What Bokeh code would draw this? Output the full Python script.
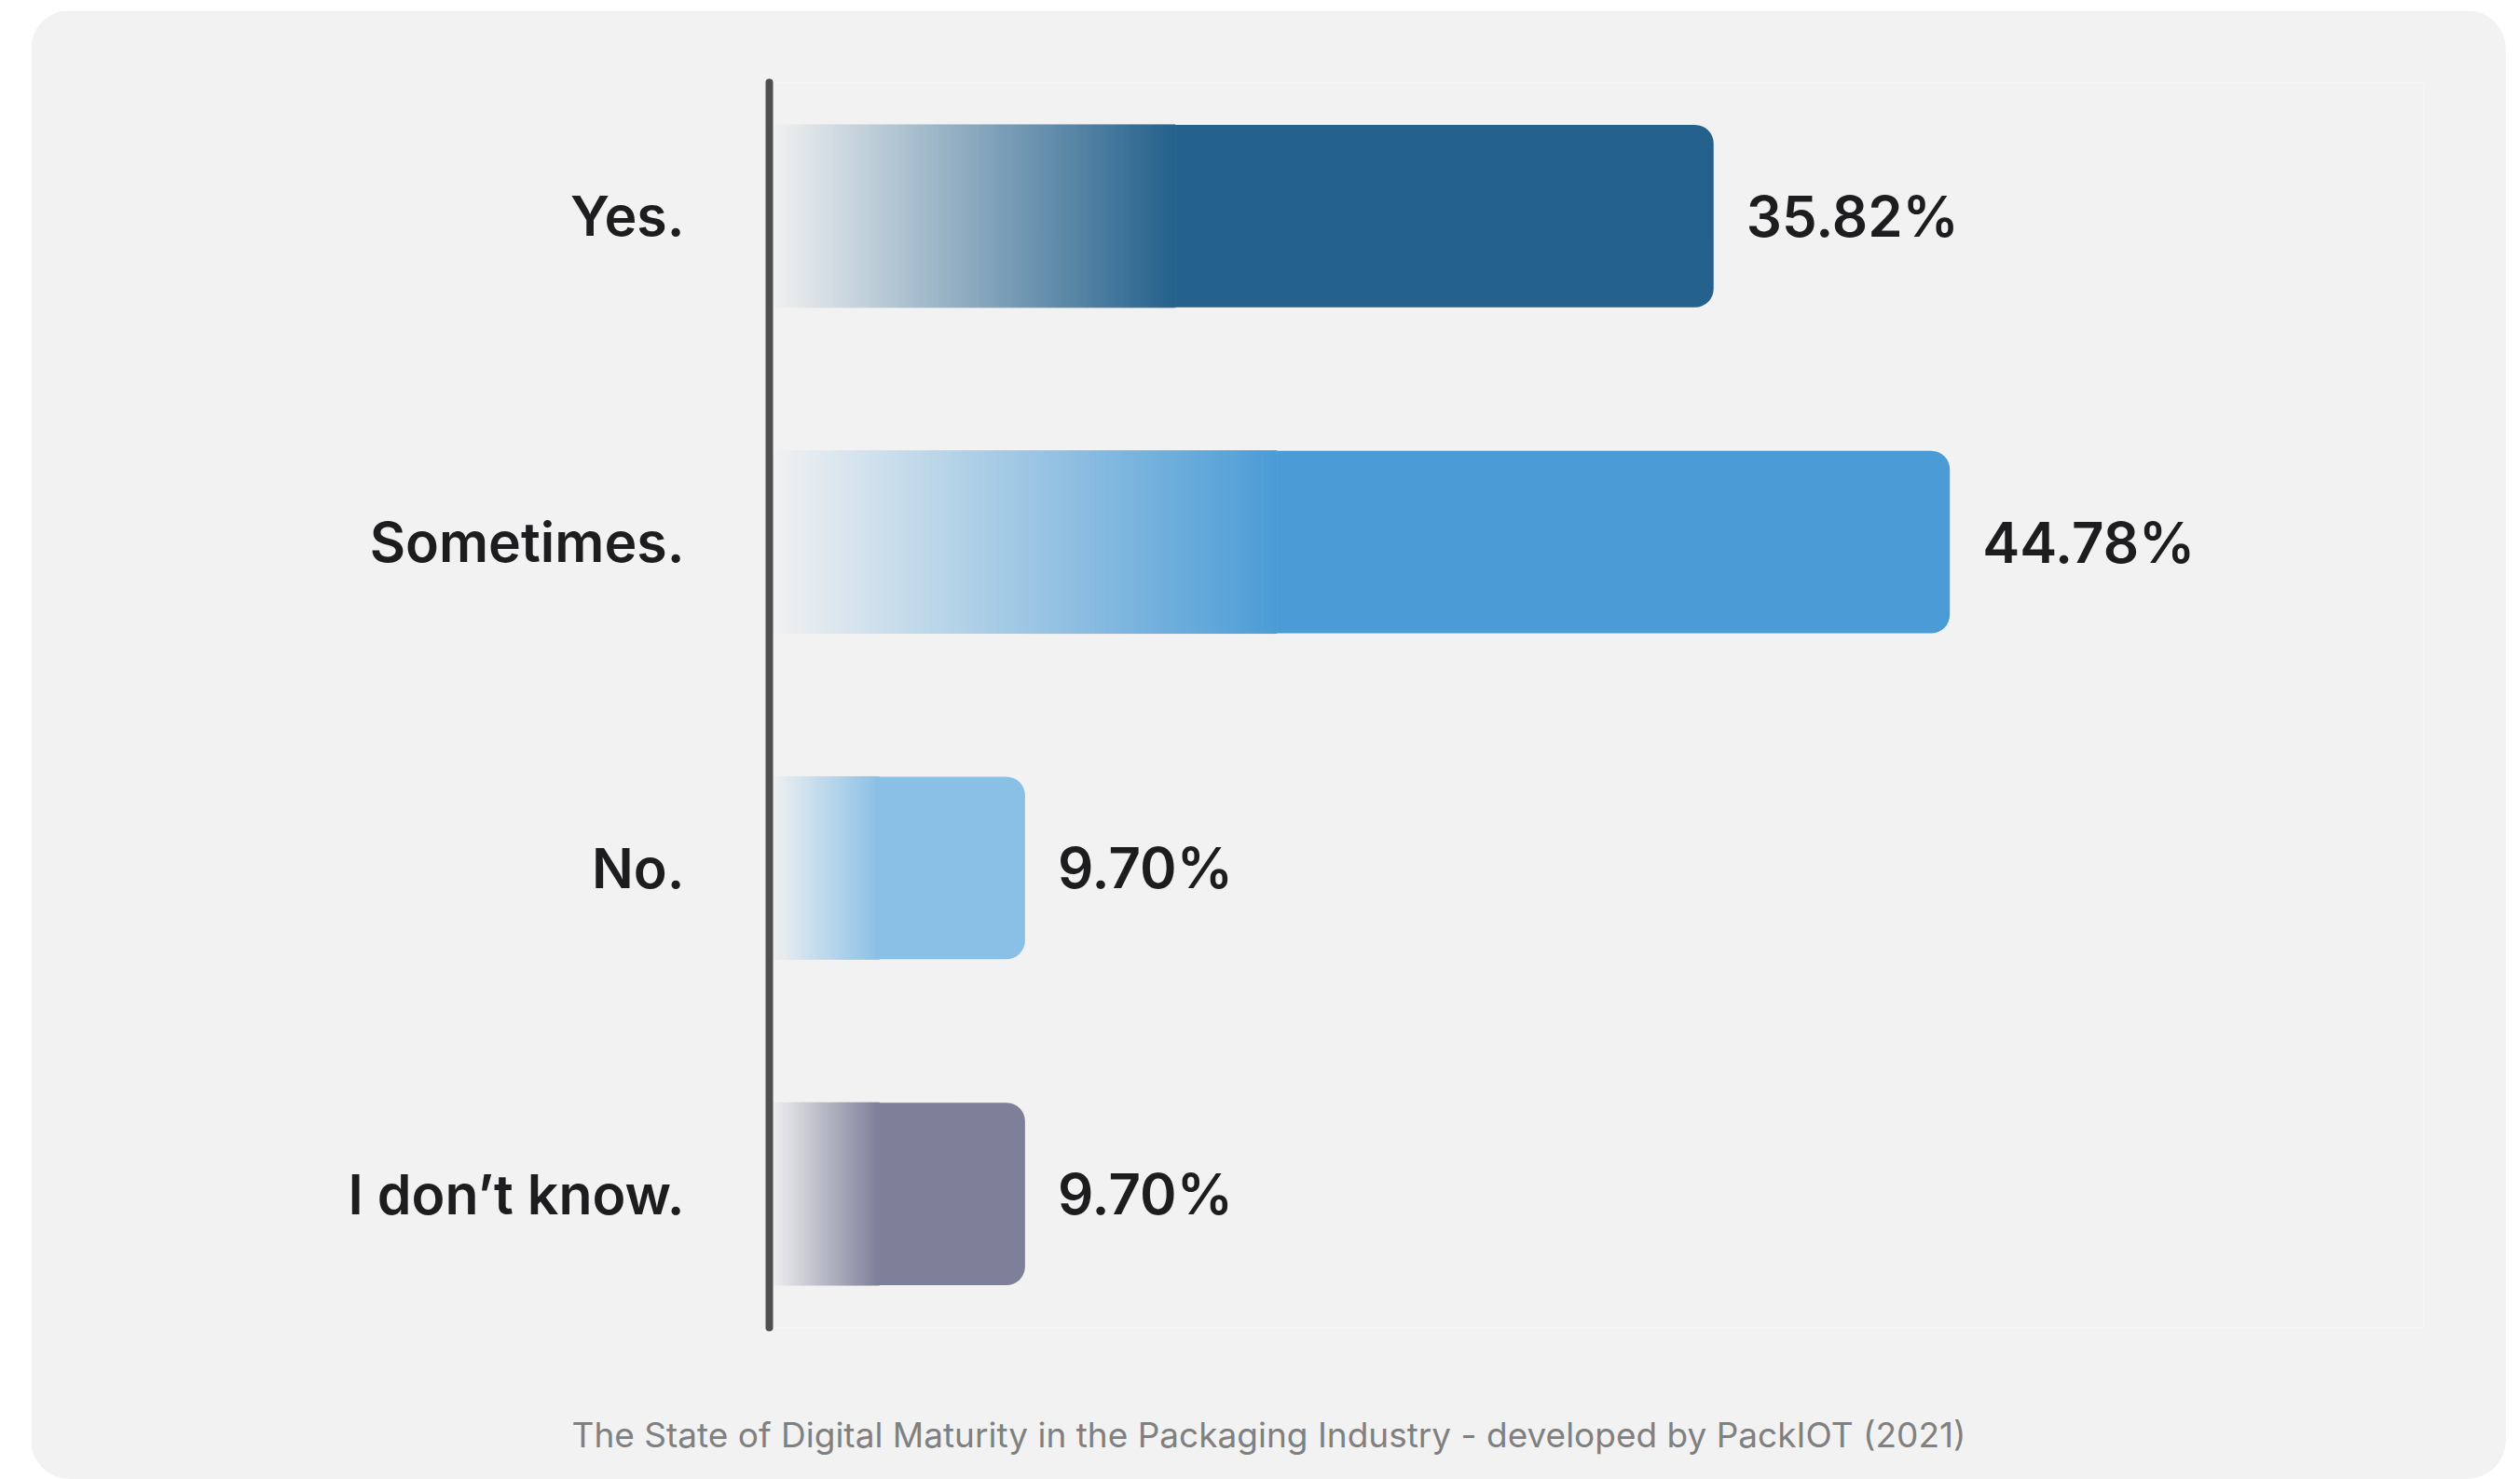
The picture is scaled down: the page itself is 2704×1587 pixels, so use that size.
import numpy as np
from bokeh.plotting import figure
from bokeh.models import Range1d, FixedTicker, LinearAxis
from bokeh.core.properties import value
from bokeh.embed import file_html
from bokeh.resources import INLINE

# ---------------- data ----------------
categories = ["Yes.", "Sometimes.", "No.", "I don’t know."]
values = [35.82, 44.78, 9.70, 9.70]
value_labels = ["35.82%", "44.78%", "9.70%", "9.70%"]
bar_colors = ["#24618C", "#4B9CD6", "#8BC0E6", "#7E809A"]
footer_text = "The State of Digital Maturity in the Packaging Industry - developed by PackIOT (2021)"

# ---------------- style ----------------
BG = "#f2f2f2"
TEXT = "#1d1d1f"
GRAD_FRAC = 0.43
N_STEPS = 120
BAR_H = 0.56
FIG_W, FIG_H = 2656, 1576
MB_L, MB_R, MB_T, MB_B = 792, 89, 77, 163
X_END = 62.75
Y_LO, Y_HI = -0.41, 3.41
VAL_FONT = "Inter SemiBold, Inter"
CAT_FONT = "Inter SemiBold, Inter"


def hex_rgb(h):
    h = h.lstrip("#")
    return tuple(int(h[i:i + 2], 16) for i in (0, 2, 4))


def blend(c0, c1, t):
    a, b = hex_rgb(c0), hex_rgb(c1)
    return "#%02x%02x%02x" % tuple(int(round(a[k] * (1 - t) + b[k] * t)) for k in range(3))


n = len(categories)
ypos = [n - 1 - i for i in range(n)]

p = figure(width=FIG_W, height=FIG_H, output_backend="svg", toolbar_location=None,
           x_range=Range1d(0, X_END), y_range=Range1d(Y_LO, Y_HI),
           x_axis_location=None,
           min_border_left=MB_L, min_border_right=MB_R,
           min_border_top=MB_T, min_border_bottom=MB_B,
           margin=(11, 15, 0, 33))
p.styles = {"border-radius": "42px", "overflow": "hidden"}
p.background_fill_color = BG
p.border_fill_color = BG
p.outline_line_color = None
p.xgrid.visible = False
p.ygrid.visible = False

# gradient part of each bar
gl, gr, gt, gb, gc = [], [], [], [], []
for y, v, c in zip(ypos, values, bar_colors):
    gw = v * GRAD_FRAC
    edges = np.linspace(0, gw, N_STEPS + 1)
    for k in range(N_STEPS):
        t = (k + 0.5) / N_STEPS
        col = blend(BG, c, t)
        gl.append(float(edges[k]))
        gr.append(float(edges[k + 1]))
        gt.append(y + BAR_H / 2)
        gb.append(y - BAR_H / 2)
        gc.append(col)
p.quad(left=gl, right=gr, top=gt, bottom=gb, fill_color=gc, line_color=gc, line_width=1)

# solid part of each bar (rounded right end)
solid_left = [v * GRAD_FRAC for v in values]
try:
    p.hbar(y=ypos, left=solid_left, right=values, height=BAR_H,
           fill_color=bar_colors, line_color=None, border_radius=(0, 20, 20, 0))
except Exception:
    p.hbar(y=ypos, left=solid_left, right=values, height=BAR_H,
           fill_color=bar_colors, line_color=None)

# value labels
p.text(x=values, y=ypos, text=value_labels, x_offset=35,
       text_align="left", text_baseline="middle",
       text_font=value(VAL_FONT), text_font_size="60px", text_color=TEXT)

# y axis with category labels
ax = p.yaxis[0]
ax.ticker = FixedTicker(ticks=ypos)
ax.major_label_overrides = {int(y): c for y, c in zip(ypos, categories)}
ax.major_tick_line_color = None
ax.minor_tick_line_color = None
ax.major_tick_out = 0
ax.major_tick_in = 0
ax.major_label_standoff = 91
ax.major_label_text_font = CAT_FONT
ax.major_label_text_font_size = "59px"
ax.major_label_text_color = TEXT
ax.axis_line_width = 8
ax.axis_line_color = "#4f4f4f"
ax.axis_line_cap = "round"

# footer / source line, centred on the panel (pixel-based helper range)
frame_w = FIG_W - MB_L - MB_R
panel_center = FIG_W / 2 - MB_L
p.extra_x_ranges["footer"] = Range1d(-panel_center, frame_w - panel_center)
fax = LinearAxis(x_range_name="footer", ticker=FixedTicker(ticks=[0]),
                 major_label_overrides={0: footer_text})
fax.axis_line_color = None
fax.major_tick_line_color = None
fax.minor_tick_line_color = None
fax.major_tick_out = 0
fax.major_tick_in = 0
fax.major_label_standoff = 92
fax.major_label_text_font = "Inter"
fax.major_label_text_font_size = "37px"
fax.major_label_text_color = "#808080"
p.add_layout(fax, "below")

open("out.html", "w").write(file_html(p, INLINE))
